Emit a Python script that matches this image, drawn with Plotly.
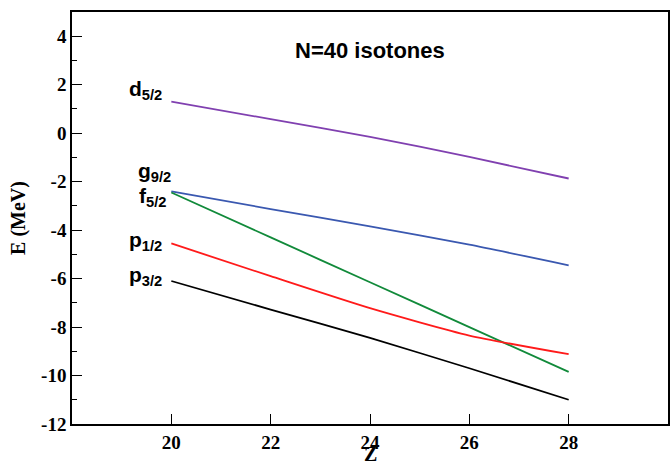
import plotly.graph_objects as go

Z = [20, 22, 24, 26, 28]
d52 = [1.3, 0.58, -0.15, -0.98, -1.87]
g92 = [-2.4, -3.13, -3.85, -4.6, -5.45]
f52 = [-2.45, -4.3, -6.15, -8.0, -9.85]
p12 = [-4.55, -5.9, -7.22, -8.35, -9.12]
p32 = [-6.1, -7.28, -8.45, -9.7, -11.0]

series = [
    (d52, "#8040b0", "d<sub>5/2</sub>", 1.8, 19.85),
    (g92, "#3a58b0", "g<sub>9/2</sub>", -1.6, 20.03),
    (f52, "#118a3a", "f<sub>5/2</sub>", -2.65, 19.93),
    (p12, "#ff1a1a", "p<sub>1/2</sub>", -4.45, 19.85),
    (p32, "#000000", "p<sub>3/2</sub>", -5.9, 19.85),
]

fig = go.Figure()
for ys, col, name, ly, lx in series:
    fig.add_trace(go.Scatter(x=Z, y=ys, mode="lines", line=dict(color=col, width=1.8,
                              shape="spline", smoothing=0.6), name=name, showlegend=False))
    fig.add_annotation(x=lx, y=ly, xref="x", yref="y", text="<b>" + name + "</b>",
                       showarrow=False, xanchor="right", yanchor="middle",
                       font=dict(family="Liberation Sans", size=21, color="black"))

fig.add_annotation(x=24.0, y=3.4, xref="x", yref="y", text="<b>N=40 isotones</b>",
                   showarrow=False, xanchor="center", yanchor="middle",
                   font=dict(family="Liberation Sans", size=22, color="black"))

fig.add_annotation(x=24.0, y=-0.074, xref="x", yref="paper", text="<b>Z</b>",
                   showarrow=False, xanchor="center", yanchor="middle",
                   font=dict(family="Liberation Serif", size=20, color="black"))

axfont = dict(family="Liberation Serif", size=19, color="black")
fig.update_layout(
    width=670, height=461,
    margin=dict(l=72, r=2, t=12, b=37),
    plot_bgcolor="white", paper_bgcolor="white",
    xaxis=dict(range=[18, 30], tickvals=[20, 22, 24, 26, 28], ticktext=["<b>20</b>", "<b>22</b>", "<b>24</b>", "<b>26</b>", "<b>28</b>"],
               ticks="inside", ticklen=10, tickwidth=1.2, tickcolor="black",
               showline=True, linecolor="black", linewidth=1.5, mirror=True,
               showgrid=False, zeroline=False, tickfont=axfont, automargin=False),
    yaxis=dict(range=[-12, 5], tickvals=[-12, -10, -8, -6, -4, -2, 0, 2, 4],
               ticktext=["<b>-12</b>", "<b>-10</b>", "<b>-8</b>", "<b>-6</b>", "<b>-4</b>", "<b>-2</b>", "<b>0</b>", "<b>2</b>", "<b>4</b>"],
               ticks="inside", ticklen=10, tickwidth=1.2, tickcolor="black",
               minor=dict(tickvals=[-11, -9, -7, -5, -3, -1, 1, 3], ticks="inside", ticklen=5, tickcolor="black", tickwidth=1.2),
               showline=True, linecolor="black", linewidth=1.5, mirror=True,
               showgrid=False, zeroline=False, tickfont=axfont, automargin=False,
               title=dict(text="<b>E (MeV)</b>", font=dict(family="Liberation Serif", size=20, color="black"), standoff=10)),
)

fig.write_html("out.html")
